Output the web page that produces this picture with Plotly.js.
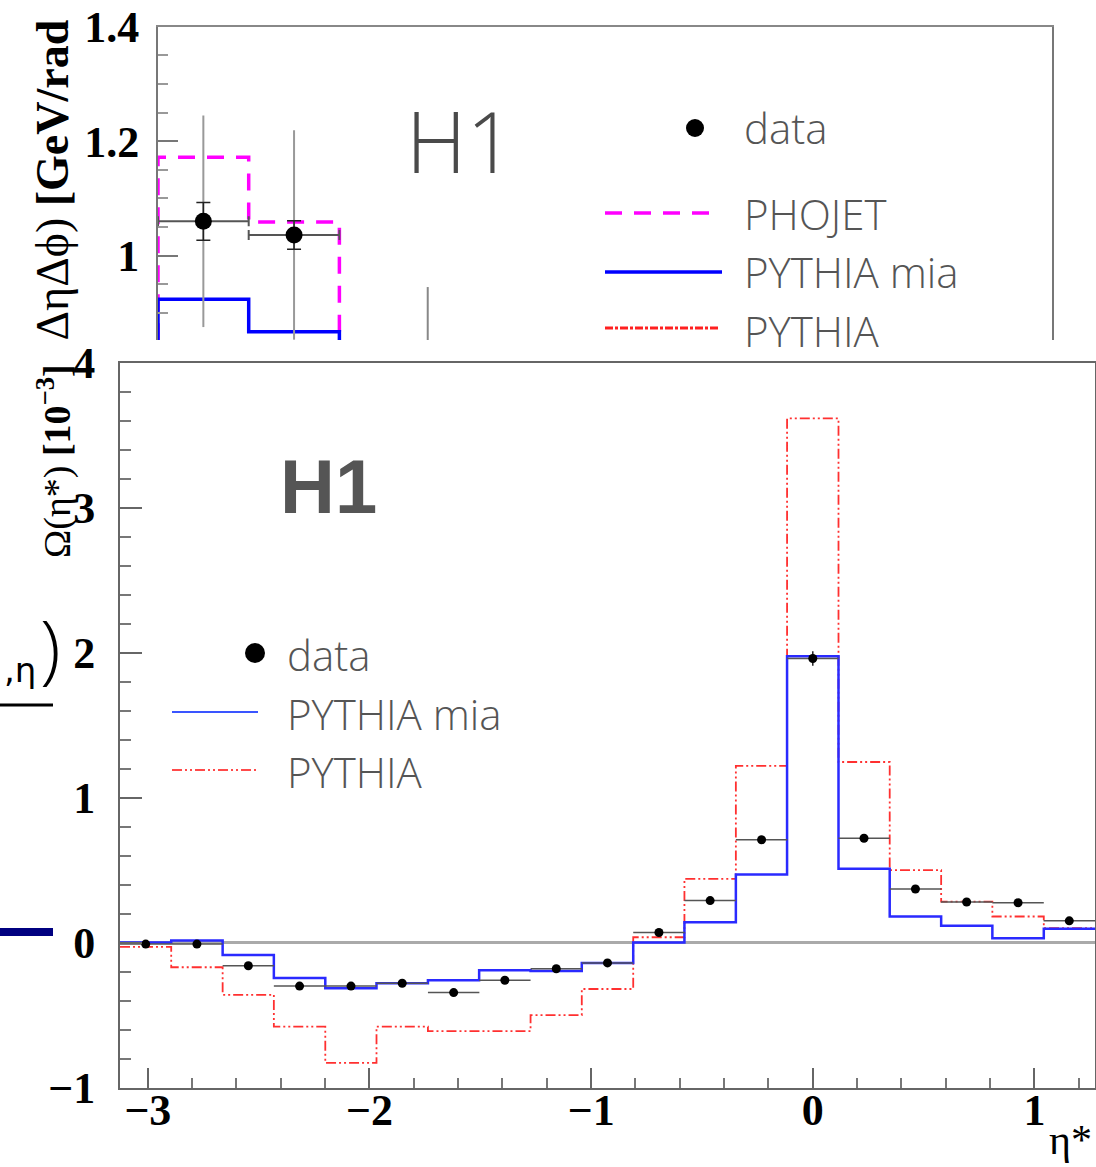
<!DOCTYPE html>
<html>
<head>
<meta charset="utf-8">
<script src="https://cdn.plot.ly/plotly-3.0.1.min.js"></script>
<style>html,body{margin:0;padding:0;background:#fff;}#chart{width:1096px;height:1167px;}</style>
</head>
<body>
<div id="chart"></div>
<script>
// ---------- main panel: Omega(eta*) ----------
const mainEdges = [-3.125, -2.894, -2.662, -2.431, -2.199, -1.968, -1.736, -1.505, -1.273, -1.042, -0.810, -0.579, -0.347, -0.116, 0.116, 0.347, 0.579, 0.810, 1.042, 1.273];
const mainCenters = [-3.009, -2.778, -2.546, -2.315, -2.083, -1.852, -1.620, -1.389, -1.157, -0.926, -0.694, -0.463, -0.231, 0.000, 0.231, 0.463, 0.694, 0.926, 1.157];
const mainHalfWidth = [0.116, 0.116, 0.116, 0.116, 0.116, 0.116, 0.116, 0.116, 0.116, 0.116, 0.116, 0.116, 0.116, 0.116, 0.116, 0.116, 0.116, 0.116, 0.116];
const dataOmega = [-0.01, -0.01, -0.16, -0.30, -0.30, -0.28, -0.345, -0.26, -0.18, -0.14, 0.07, 0.29, 0.71, 1.96, 0.72, 0.37, 0.28, 0.275, 0.15];
const dataOmegaErr = [0.02, 0.02, 0.02, 0.02, 0.02, 0.02, 0.02, 0.02, 0.02, 0.02, 0.02, 0.02, 0.02, 0.05, 0.02, 0.02, 0.02, 0.02, 0.02];
const pythiaMiaOmega = [0.0, 0.014, -0.085, -0.245, -0.315, -0.28, -0.26, -0.19, -0.195, -0.14, 0.0, 0.14, 0.47, 1.975, 0.51, 0.18, 0.117, 0.03, 0.095];
const pythiaOmega = [-0.03, -0.17, -0.36, -0.58, -0.83, -0.58, -0.61, -0.61, -0.50, -0.32, 0.037, 0.44, 1.22, 3.617, 1.246, 0.50, 0.283, 0.18, 0.10];
const mainXTicks = [-3, -2, -1, 0, 1];
const mainYTicks = [-1, 0, 1, 2, 3, 4];

// ---------- upper panel (partly hidden) ----------
const topEdges = [0, 0, 1, 2, 3];
const phojetTop = [0.70, 1.172, 1.0585, 0.75, 0.75];
const pythiaMiaTop = [0.70, 0.9235, 0.867, 0.75, 0.75];
const topCenters = [0.5, 1.5];
const topHalfWidth = [0.5, 0.5];
const dataTop = [1.060, 1.036];
const dataTopStatErr = [0.033, 0.025];
const dataTopTotErr = [0.185, 0.183];
const extraSegX = [2.974, 2.974];
const extraSegY = [0.945, 0.80];
const topYTicks = [1, 1.2, 1.4];

const W = 1096, H = 1167;
const PX = v => v / W;
const PY = v => 1 - v / H;
const stepY = a => a.concat([a[a.length - 1]]);

const serif = 'Liberation Serif, Times New Roman, serif';
const legFont = {family: 'Open Sans, DejaVu Sans, sans-serif', size: 42, color: '#555', weight: 300};

const traces = [
  // top panel
  {x: topEdges, y: phojetTop, xaxis: 'x2', yaxis: 'y2', mode: 'lines', line: {shape: 'hv', color: '#ff00ff', width: 3.5, dash: '17px,12px'}, hoverinfo: 'skip'},
  {x: topEdges, y: pythiaMiaTop, xaxis: 'x2', yaxis: 'y2', mode: 'lines', line: {shape: 'hv', color: '#0000ff', width: 3.5}, hoverinfo: 'skip'},
  {x: extraSegX, y: extraSegY, xaxis: 'x2', yaxis: 'y2', mode: 'lines', line: {color: '#888', width: 2}, hoverinfo: 'skip'},
  {x: topCenters, y: dataTop, xaxis: 'x2', yaxis: 'y2', mode: 'markers', marker: {size: 1, color: 'rgba(0,0,0,0)'},
   error_y: {type: 'data', array: dataTopTotErr, visible: true, color: '#999', thickness: 2, width: 0}, hoverinfo: 'skip'},
  {x: topCenters, y: dataTop, xaxis: 'x2', yaxis: 'y2', mode: 'markers', marker: {size: 17, color: '#000'},
   error_y: {type: 'data', array: dataTopStatErr, visible: true, color: '#222', thickness: 1.5, width: 7},
   error_x: {type: 'data', array: topHalfWidth, visible: true, color: '#555', thickness: 2, width: 5}, hoverinfo: 'skip'},
  // main panel
  {x: mainEdges, y: stepY(pythiaOmega), mode: 'lines', line: {shape: 'hv', color: '#ff3030', width: 1.8, dash: '10px,3px,2px,3px,2px,3px'}, hoverinfo: 'skip'},
  {x: mainEdges, y: stepY(pythiaMiaOmega), mode: 'lines', line: {shape: 'hv', color: '#2a2aff', width: 2.5}, hoverinfo: 'skip'},
  {x: mainCenters, y: dataOmega, mode: 'markers', marker: {size: 9, color: '#000'},
   error_x: {type: 'data', array: mainHalfWidth, visible: true, color: '#555', thickness: 1.5, width: 0},
   error_y: {type: 'data', array: dataOmegaErr, visible: true, color: '#222', thickness: 1.5, width: 0}, hoverinfo: 'skip'}
];

const annotations = [
  // top panel
  {xref: 'paper', yref: 'paper', x: PX(460), y: PY(140), text: 'H1', showarrow: false, xanchor: 'center', yanchor: 'middle',
   font: {family: 'Open Sans, Liberation Sans, sans-serif', size: 84, color: '#4a4a4a', weight: 300}},
  {xref: 'paper', yref: 'paper', x: PX(742), y: PY(127), text: 'data', showarrow: false, xanchor: 'left', yanchor: 'middle', font: legFont},
  {xref: 'paper', yref: 'paper', x: PX(742), y: PY(214), text: 'PHOJET', showarrow: false, xanchor: 'left', yanchor: 'middle', font: legFont},
  {xref: 'paper', yref: 'paper', x: PX(742), y: PY(272), text: 'PYTHIA mia', showarrow: false, xanchor: 'left', yanchor: 'middle', font: legFont},
  {xref: 'paper', yref: 'paper', x: PX(742), y: PY(330), text: 'PYTHIA', showarrow: false, xanchor: 'left', yanchor: 'middle', font: legFont},
  {xref: 'paper', yref: 'paper', x: PX(52), y: PY(18), text: 'ΔηΔϕ) <b>[GeV/rad</b>', showarrow: false, textangle: -90,
   xanchor: 'center', yanchor: 'top', font: {family: serif, size: 46, color: '#000'}},
  // main panel
  {xref: 'paper', yref: 'paper', x: PX(328), y: PY(486), text: '<b>H1</b>', showarrow: false, xanchor: 'center', yanchor: 'middle',
   font: {family: 'Liberation Sans, sans-serif', size: 76, color: '#555'}},
  {xref: 'paper', yref: 'paper', x: PX(285), y: PY(654), text: 'data', showarrow: false, xanchor: 'left', yanchor: 'middle', font: legFont},
  {xref: 'paper', yref: 'paper', x: PX(285), y: PY(713), text: 'PYTHIA mia', showarrow: false, xanchor: 'left', yanchor: 'middle', font: legFont},
  {xref: 'paper', yref: 'paper', x: PX(285), y: PY(771), text: 'PYTHIA', showarrow: false, xanchor: 'left', yanchor: 'middle', font: legFont},
  {xref: 'paper', yref: 'paper', x: PX(54), y: PY(362), text: 'Ω(η*) <b>[10<sup>−3</sup>]</b>', showarrow: false, textangle: -90,
   xanchor: 'center', yanchor: 'top', font: {family: serif, size: 38, color: '#000'}},
  {xref: 'paper', yref: 'paper', x: PX(1094), y: PY(1140), text: 'η*', showarrow: false, xanchor: 'right', yanchor: 'middle',
   font: {family: serif, size: 42, color: '#000'}},
  // fragments on the left
  {xref: 'paper', yref: 'paper', x: PX(38), y: PY(670), text: ',η', showarrow: false, xanchor: 'right', yanchor: 'middle',
   font: {family: 'DejaVu Sans, sans-serif', size: 34, color: '#000'}},
  {xref: 'paper', yref: 'paper', x: PX(50), y: PY(645), text: ')', showarrow: false, xanchor: 'center', yanchor: 'middle',
   font: {family: 'Open Sans, DejaVu Sans, sans-serif', size: 76, color: '#000', weight: 300}}
];

const shapes = [
  // top legend keys
  {type: 'circle', xref: 'paper', yref: 'paper', x0: PX(686), x1: PX(704), y0: PY(137), y1: PY(119), fillcolor: '#000', line: {width: 0}},
  {type: 'line', xref: 'paper', yref: 'paper', x0: PX(605), x1: PX(712), y0: PY(213), y1: PY(213), line: {color: '#ff00ff', width: 3.5, dash: '17px,12px'}},
  {type: 'line', xref: 'paper', yref: 'paper', x0: PX(605), x1: PX(722), y0: PY(272), y1: PY(272), line: {color: '#0000ff', width: 3.5}},
  {type: 'line', xref: 'paper', yref: 'paper', x0: PX(605), x1: PX(720), y0: PY(328), y1: PY(328), line: {color: '#ff2020', width: 3, dash: '8px,2px,3px,2px'}},
  // main legend keys
  {type: 'circle', xref: 'paper', yref: 'paper', x0: PX(245), x1: PX(265), y0: PY(663), y1: PY(643), fillcolor: '#000', line: {width: 0}},
  {type: 'line', xref: 'paper', yref: 'paper', x0: PX(172), x1: PX(258), y0: PY(712), y1: PY(712), line: {color: '#3a55ff', width: 1.8}},
  {type: 'line', xref: 'paper', yref: 'paper', x0: PX(172), x1: PX(258), y0: PY(770), y1: PY(770), line: {color: '#ff4a4a', width: 1.8, dash: '10px,3px,2px,3px,2px,3px'}},
  // fragments on the left
  {type: 'rect', xref: 'paper', yref: 'paper', x0: PX(0), x1: PX(53), y0: PY(706.5), y1: PY(703.5), fillcolor: '#000', line: {width: 0}},
  {type: 'rect', xref: 'paper', yref: 'paper', x0: PX(0), x1: PX(53), y0: PY(936), y1: PY(928), fillcolor: '#000080', line: {width: 0}}
];

const tickFont = {family: serif, size: 44, color: '#000', weight: 'bold'};

const layout = {
  width: W, height: H,
  margin: {l: 0, r: 0, t: 0, b: 0, pad: 0},
  paper_bgcolor: '#fff', plot_bgcolor: 'rgba(0,0,0,0)',
  showlegend: false,
  xaxis: {
    domain: [PX(120), PX(1095)], range: [-3.125, 1.273], anchor: 'y',
    showline: true, linecolor: '#666', linewidth: 2, mirror: true,
    ticks: 'inside', ticklen: 20, tickwidth: 2, tickcolor: '#666',
    tickmode: 'array', tickvals: mainXTicks,
    minor: {ticks: 'inside', ticklen: 10, tickwidth: 2, tickcolor: '#777', dtick: 0.2, tick0: 0, showgrid: false},
    tickfont: tickFont, ticklabelstandoff: -18,
    showgrid: false, zeroline: false, fixedrange: true
  },
  yaxis: {
    domain: [PY(1087.7), PY(362.7)], range: [-1.001, 4.001], anchor: 'x',
    showline: true, linecolor: '#666', linewidth: 2, mirror: true,
    ticks: 'inside', ticklen: 22, tickwidth: 2, tickcolor: '#666',
    tickmode: 'array', tickvals: mainYTicks,
    minor: {ticks: 'inside', ticklen: 11, tickwidth: 2, tickcolor: '#777', dtick: 0.2, tick0: 0, showgrid: false},
    tickfont: tickFont, ticklabelstandoff: 14,
    showgrid: false, zeroline: true, zerolinecolor: '#aaa', zerolinewidth: 2.5, fixedrange: true
  },
  xaxis2: {
    domain: [PX(158), PX(1052)], range: [0, 9.857], anchor: 'y2', side: 'top',
    showline: true, linecolor: '#888', linewidth: 1.5, mirror: false,
    ticks: '', showticklabels: false, showgrid: false, zeroline: false, fixedrange: true
  },
  yaxis2: {
    domain: [PY(340), PY(26.5)], range: [0.8524, 1.4005], anchor: 'x2',
    showline: true, linecolor: '#777', linewidth: 2, mirror: true,
    ticks: 'inside', ticklen: 20, tickwidth: 2, tickcolor: '#777',
    tickmode: 'array', tickvals: topYTicks,
    minor: {ticks: 'inside', ticklen: 10, tickwidth: 2, tickcolor: '#999', dtick: 0.05, tick0: 0, showgrid: false},
    tickfont: tickFont, ticklabelstandoff: 8,
    showgrid: false, zeroline: false, fixedrange: true
  },
  annotations: annotations,
  shapes: shapes
};

Plotly.newPlot('chart', traces, layout, {staticPlot: true, displayModeBar: false});
</script>
</body>
</html>
